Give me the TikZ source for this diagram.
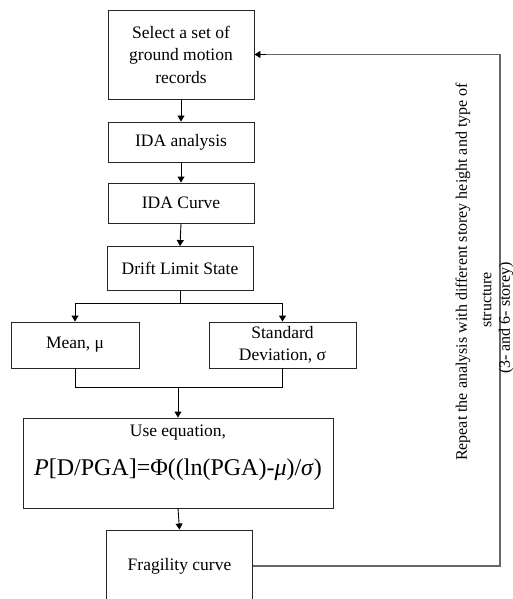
\documentclass[tikz,border=0pt]{standalone}
\usepackage{fontspec}
\setmainfont{Liberation Serif}
\usetikzlibrary{arrows.meta}
\begin{document}
\begin{tikzpicture}[x=1pt,y=-1pt,
  box/.style={draw=black!85, line width=0.9pt, fill=white, align=center, inner sep=0pt,
    font=\fontsize{17.5}{22.5}\selectfont},
  arr/.style={-{Triangle[length=6pt,width=7pt]}, line width=0.9pt},
  ln/.style={line width=0.9pt},
  loopline/.style={draw=black!60, line width=1.4pt},
  side/.style={rotate=90, inner sep=0pt, font=\fontsize{16}{19}\selectfont},
  eqtext/.style={inner sep=0pt}]
\useasboundingbox (0,0) rectangle (512,599);
\clip (0,0) rectangle (512,599);

\node[box, minimum width=146pt, minimum height=89pt] (b1) at (181,54.5) {Select a set of\\ground motion\\records};
\node[box, minimum width=146pt, minimum height=40pt] (b2) at (181,142) {IDA analysis};
\node[box, minimum width=146pt, minimum height=40pt] (b3) at (181,203) {IDA Curve};
\node[box, minimum width=146pt, minimum height=44pt] (b4) at (180,268.5) {Drift Limit State};
\node[box, minimum width=128pt, minimum height=46pt] (b5) at (75,345) {Mean, μ};
\node[box, minimum width=147pt, minimum height=46pt] (b6) at (282.5,345) {Standard\\Deviation, σ};
\node[box, minimum width=310pt, minimum height=90pt] (b7) at (178,463) {};
\node[eqtext, font=\fontsize{17.5}{21}\selectfont] (t7a) at (178,433) {Use equation,};
\node[eqtext, font=\fontsize{24}{28}\selectfont] (t7b) at (178,470) {\textit{P}[D/PGA]=Φ((ln(PGA)-\textit{μ})/\textit{σ})};
\node[box, minimum width=146pt, minimum height=72pt] (b8) at (179.5,566) {Fragility curve};

\coordinate (j1) at (180,303);
\coordinate (j2) at (178,387);
\coordinate (lc) at (500,300);

\draw[arr] (b1.south) -- (b2.north);
\draw[arr] (b2.south) -- (b3.north);
\draw[arr] (b3.south) -- (b4.north);
\draw[ln] (b4.south) -- (j1);
\draw[ln] (b5.north |- j1) -- (b6.north |- j1);
\draw[arr] (b5.north |- j1) -- (b5.north);
\draw[arr] (b6.north |- j1) -- (b6.north);
\draw[ln] (b5.south) -- (b5.south |- j2) -- (b6.south |- j2) -- (b6.south);
\draw[arr] (b7.north |- j2) -- (b7.north);
\draw[arr] (b7.south) -- (b8.north);
\draw[loopline] (b8.east) -| (lc) |- (b1.east);
\draw[-{Triangle[length=6pt,width=7pt]}, line width=0.9pt] ([xshift=12pt]b1.east) -- (b1.east);

\node[side] (s1) at (463,272) {Repeat the analysis with different storey height and type of};
\node[side] (s2) at (487,300) {structure};
\node[side] (s3) at (506,318) {(3- and 6- storey)};
\end{tikzpicture}
\end{document}
